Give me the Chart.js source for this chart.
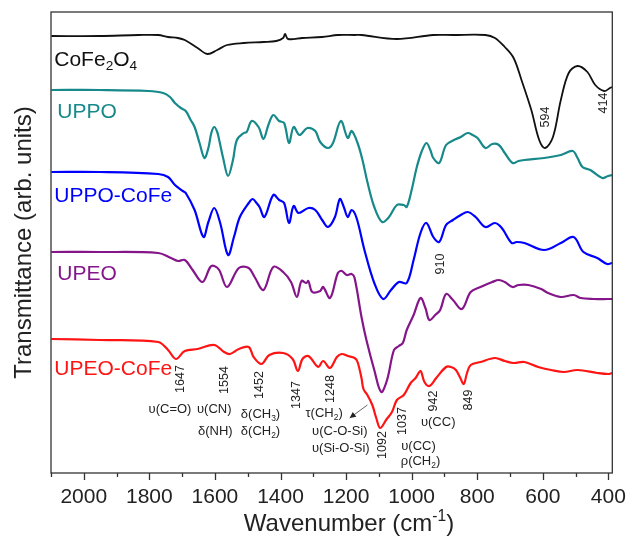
<!DOCTYPE html>
<html><head><meta charset="utf-8">
<script src="https://cdn.jsdelivr.net/npm/chart.js@4.4.1/dist/chart.umd.min.js"></script>
<style>html,body{margin:0;padding:0;background:#fff}#wrap{width:638px;height:540px}</style>
</head><body><div id="wrap"><canvas id="c" width="638" height="540"></canvas></div>
<script>
// ---- data: [wavenumber (cm-1), transmittance (arb. units)] ----
const CoFe2O4 = [[2099,440],[1952,440],[1833,441],[1773,441],[1743,439],[1713,438],[1692,436],[1653,428],[1623,422],[1593,426],[1563,431],[1512,433],[1452,434],[1413,435],[1392,438],[1386,442],[1377,437],[1333,438],[1273,439],[1225,441],[1174,441],[1153,441],[1045,437],[934,441],[874,441],[775,441],[746,438],[716,429],[689,418],[665,396],[635,366],[611,336],[593,328],[569,339],[545,376],[521,403],[494,410],[464,404],[440,391],[413,385],[395,388],[389,389]];
const UPPO = [[2099,386],[1952,386],[1803,385],[1758,383],[1737,379],[1722,373],[1704,368],[1689,365],[1674,356],[1662,349],[1647,333],[1632,318],[1620,328],[1611,343],[1602,349],[1593,344],[1587,336],[1575,318],[1560,300],[1545,316],[1533,336],[1512,343],[1503,344],[1488,355],[1467,349],[1452,337],[1437,351],[1422,361],[1404,355],[1389,353],[1374,333],[1360,349],[1342,341],[1318,348],[1294,345],[1279,334],[1255,328],[1240,333],[1216,355],[1195,338],[1183,345],[1165,333],[1150,316],[1135,294],[1114,269],[1090,254],[1069,259],[1045,271],[1024,271],[1015,269],[1000,286],[985,308],[970,324],[955,333],[943,326],[934,318],[916,313],[895,331],[871,336],[850,339],[829,343],[814,341],[799,338],[775,328],[754,332],[734,331],[716,323],[692,313],[674,315],[656,316],[596,318],[545,321],[509,325],[494,318],[479,309],[455,306],[419,298],[401,300],[389,301]];
const UPPO_CoFe = [[2099,304],[1952,304],[1773,302],[1743,299],[1722,291],[1698,285],[1689,283],[1662,266],[1635,239],[1620,254],[1602,268],[1584,253],[1560,221],[1542,239],[1524,259],[1497,273],[1485,277],[1473,273],[1464,269],[1449,259],[1422,281],[1404,276],[1389,273],[1374,253],[1360,270],[1345,263],[1315,268],[1294,266],[1273,256],[1255,249],[1234,259],[1219,277],[1207,269],[1195,259],[1183,266],[1168,258],[1144,226],[1114,193],[1087,177],[1063,186],[1039,194],[1015,193],[994,216],[973,243],[955,253],[934,239],[916,234],[895,251],[874,256],[850,261],[829,264],[805,259],[775,249],[746,253],[725,248],[695,233],[680,234],[656,233],[596,226],[545,233],[506,239],[476,224],[434,218],[404,212],[389,213]];
const UPEO = [[2099,224],[1952,224],[1773,223],[1734,218],[1713,215],[1692,216],[1668,206],[1638,194],[1614,209],[1602,210],[1587,206],[1563,189],[1527,208],[1497,208],[1479,199],[1452,186],[1422,209],[1392,204],[1368,194],[1350,179],[1336,195],[1321,193],[1315,195],[1303,184],[1279,185],[1270,189],[1249,178],[1225,203],[1213,205],[1198,201],[1183,202],[1174,198],[1153,159],[1138,136],[1114,106],[1093,84],[1075,96],[1054,126],[1039,130],[1027,133],[1015,146],[994,161],[973,178],[958,168],[946,156],[928,161],[913,166],[895,182],[874,176],[847,167],[820,184],[790,189],[754,194],[734,196],[716,194],[692,189],[674,191],[644,191],[605,187],[584,183],[545,179],[506,181],[485,178],[446,177],[401,177],[389,177]];
const UPEO_CoFe = [[2099,137],[1952,136],[1773,134],[1743,126],[1719,117],[1692,125],[1653,127],[1602,131],[1572,124],[1554,122],[1527,127],[1497,129],[1482,119],[1458,112],[1434,121],[1392,123],[1363,117],[1347,105],[1333,117],[1315,120],[1285,109],[1270,115],[1249,108],[1228,119],[1213,122],[1195,120],[1174,118],[1165,114],[1153,98],[1147,87],[1135,81],[1120,71],[1108,58],[1096,48],[1078,56],[1060,64],[1045,76],[1024,81],[1003,93],[988,98],[973,105],[961,94],[946,90],[925,98],[895,109],[880,109],[865,106],[853,99],[841,92],[832,102],[820,111],[790,114],[746,118],[716,115],[689,113],[656,114],[614,109],[575,106],[536,104],[494,106],[434,103],[401,102],[389,103]];

const seriesNames = ['CoFe2O4','UPPO','UPPO-CoFe','UPEO','UPEO-CoFe'];
const seriesData = [CoFe2O4, UPPO, UPPO_CoFe, UPEO, UPEO_CoFe];
const seriesColors = ['#111111','#17898a','#0000ff','#84168a','#ff1414'];
const xTickLabels = [2000,1800,1600,1400,1200,1000,800,600,400];

// series name labels: rich parts, wavenumber, transmittance
const nameLabels = [
  {parts:[['CoFe'],['2','sub'],['O'],['4','sub']], wn:2090, t:418, color:'#111111'},
  {parts:[['UPPO']], wn:2081, t:366, color:'#17898a'},
  {parts:[['UPPO-CoFe']], wn:2090, t:282, color:'#0000ff'},
  {parts:[['UPEO']], wn:2081, t:204, color:'#84168a'},
  {parts:[['UPEO-CoFe']], wn:2090, t:109, color:'#ff1414'}
];
// vertical peak numbers
const peakLabels = [['594',596,359],['414',419,373],['910',916,212],['1647',1707,97],['1554',1575,96],['1452',1467,91],['1347',1354,81],['1248',1249,87],['1092',1093,31],['1037',1030,55],['942',937,75],['849',829,76]];
// horizontal band assignments
const bandLabels = [
  {parts:[['υ(C=O)']], wn:1737, t:68},
  {parts:[['υ(CN)']], wn:1602, t:68},
  {parts:[['δ(NH)']], wn:1599, t:46},
  {parts:[['δ(CH'],['3','sub'],[')']], wn:1461, t:63},
  {parts:[['δ(CH'],['2','sub'],[')']], wn:1461, t:46},
  {parts:[['τ(CH'],['2','sub'],[')']], wn:1267, t:64},
  {parts:[['υ(C-O-Si)']], wn:1219, t:46},
  {parts:[['υ(Si-O-Si)']], wn:1216, t:29},
  {parts:[['υ(CC)']], wn:919, t:55},
  {parts:[['υ(CC)']], wn:979, t:31},
  {parts:[['ρ(CH'],['2','sub'],[')']], wn:973, t:16}
];
const arrowFrom = [1135,71], arrowTo = [1189,58];

const FAMILY = '"Liberation Sans", Arial, Helvetica, sans-serif';
Chart.defaults.font.family = FAMILY;

function drawRich(ctx, parts, x, y, size, color, align, rotate) {
  ctx.save();
  ctx.translate(x, y);
  if (rotate) ctx.rotate(-Math.PI / 2);
  ctx.fillStyle = color;
  ctx.textBaseline = 'alphabetic';
  ctx.textAlign = 'left';
  const sizes = parts.map(p => p[1] ? size * 0.65 : size);
  const widths = parts.map((p, i) => { ctx.font = sizes[i] + 'px ' + FAMILY; return ctx.measureText(p[0]).width; });
  const total = widths.reduce((a, b) => a + b, 0);
  let cx = align === 'left' ? 0 : align === 'center' ? -total / 2 : -total;
  const base = size * 0.358;
  parts.forEach((p, i) => {
    ctx.font = sizes[i] + 'px ' + FAMILY;
    let dy = base;
    if (p[1] === 'sub') dy = base + size * 0.22;
    if (p[1] === 'sup') dy = base - size * 0.42;
    ctx.fillText(p[0], cx, dy);
    cx += widths[i];
  });
  ctx.restore();
}

const overlay = {
  id: 'overlay',
  afterDraw(chart) {
    const {ctx, chartArea: a, scales: {x, y}} = chart;
    ctx.save();
    ctx.strokeStyle = '#333';
    ctx.lineWidth = 1.3;
    ctx.strokeRect(a.left, a.top, a.right - a.left, a.bottom - a.top);
    for (let v = 400; v <= 2100; v += 100) {
      const px = Math.round(x.getPixelForValue(v)) + 0.5;
      ctx.beginPath();
      ctx.moveTo(px, a.bottom);
      ctx.lineTo(px, a.bottom + (v % 200 === 0 ? 7 : 4));
      ctx.stroke();
    }
    ctx.restore();
    nameLabels.forEach(l => drawRich(ctx, l.parts, x.getPixelForValue(l.wn), y.getPixelForValue(l.t), 21, l.color, 'left', false));
    peakLabels.forEach(l => drawRich(ctx, [[l[0]]], x.getPixelForValue(l[1]), y.getPixelForValue(l[2]), 12.5, '#222', 'center', true));
    bandLabels.forEach(l => drawRich(ctx, l.parts, x.getPixelForValue(l.wn), y.getPixelForValue(l.t), 13, '#222', 'center', false));
    // arrow
    const x1 = x.getPixelForValue(arrowFrom[0]), y1 = y.getPixelForValue(arrowFrom[1]);
    const x2 = x.getPixelForValue(arrowTo[0]), y2 = y.getPixelForValue(arrowTo[1]);
    ctx.save();
    ctx.strokeStyle = '#555'; ctx.fillStyle = '#222'; ctx.lineWidth = 0.9;
    ctx.beginPath(); ctx.moveTo(x1, y1); ctx.lineTo(x2, y2); ctx.stroke();
    const ang = Math.atan2(y2 - y1, x2 - x1), L = 6, W = 3;
    ctx.beginPath();
    ctx.moveTo(x2, y2);
    ctx.lineTo(x2 - L * Math.cos(ang) + W * Math.sin(ang), y2 - L * Math.sin(ang) - W * Math.cos(ang));
    ctx.lineTo(x2 - L * Math.cos(ang) - W * Math.sin(ang), y2 - L * Math.sin(ang) + W * Math.cos(ang));
    ctx.closePath(); ctx.fill();
    ctx.restore();
    // x axis title with superscript
    drawRich(ctx, [['Wavenumber (cm'], ['-1', 'sup'], [')']], 349, 522, 24, '#222', 'center', false);
  }
};

new Chart(document.getElementById('c'), {
  type: 'line',
  data: {
    datasets: seriesData.map((d, i) => ({
      label: seriesNames[i],
      data: d.map(p => ({x: p[0], y: p[1]})),
      borderColor: seriesColors[i],
      borderWidth: i === 0 ? 1.8 : 2.2,
      pointRadius: 0,
      tension: 0.35,
      fill: false
    }))
  },
  options: {
    responsive: false,
    animation: false,
    parsing: false,
    layout: {padding: {top: 12, right: 16, left: 0, bottom: 0}},
    plugins: {legend: {display: false}, tooltip: {enabled: false}},
    scales: {
      x: {
        type: 'linear', reverse: true, min: 388, max: 2100,
        afterFit(s) { s.height = 67; },
        grid: {display: false, drawTicks: false, tickLength: 0},
        border: {display: false},
        ticks: {
          stepSize: 100, autoSkip: false, maxRotation: 0, includeBounds: false,
          padding: 12, color: '#222', font: {size: 21},
          callback: v => xTickLabels.includes(v) ? String(v) : ''
        }
      },
      y: {
        min: 3, max: 464,
        afterFit(s) { s.width = 51; },
        grid: {display: false, drawTicks: false},
        border: {display: false},
        ticks: {display: false},
        title: {display: true, text: 'Transmittance (arb. units)', color: '#222', font: {size: 24}, padding: {top: 10, bottom: 0}}
      }
    }
  },
  plugins: [overlay]
});
</script>
</body></html>
